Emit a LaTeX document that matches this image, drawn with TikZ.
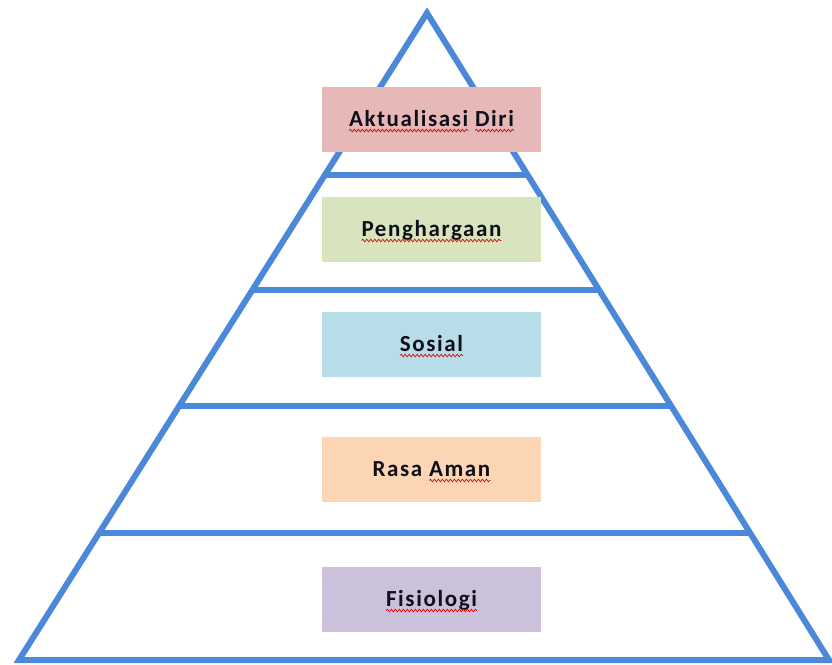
\documentclass[tikz,border=0pt]{standalone}
\usepackage{fontspec}
\setmainfont{Carlito}
\newfontfamily\lblfont[LetterSpace=7]{Carlito}
\usetikzlibrary{decorations.pathmorphing,calc}
\definecolor{pyr}{RGB}{76,136,216}
\definecolor{boxpink}{RGB}{230,184,183}
\definecolor{boxgreen}{RGB}{215,228,189}
\definecolor{boxblue}{RGB}{183,221,232}
\definecolor{boxorange}{RGB}{252,213,181}
\definecolor{boxpurple}{RGB}{204,193,218}
\definecolor{txtcol}{RGB}{15,15,25}
\newsavebox\wvbox
\newcommand\wavy[1]{\sbox\wvbox{#1}\rlap{\usebox\wvbox}\tikz[baseline=0pt]{\useasboundingbox (0pt,0pt) rectangle (\wd\wvbox,0pt);\draw[red!90!black,line width=0.7pt,decorate,decoration={snake,amplitude=1.3pt,segment length=4pt}] (0pt,-4.5pt) -- (\wd\wvbox,-4.5pt);}}
\tikzset{
  edge/.style={draw=pyr,line width=6pt},
  levelbox/.style={minimum width=219pt,minimum height=65pt,inner sep=0pt,draw=none},
  lbl/.style={anchor=base,inner sep=0pt,text=txtcol,font=\lblfont\fontsize{23}{27}\selectfont\bfseries}
}
\begin{document}
\begin{tikzpicture}[x=1pt,y=-1pt]
\useasboundingbox (0,0) rectangle (832,664);
\coordinate (apex) at (427,13);
\coordinate (bl) at (19,660);
\coordinate (br) at (829,660);
% pyramid outline
\draw[edge,line join=miter] (apex) -- (bl) -- (br) -- cycle;
% level lines
\foreach \t/\n in {0.2504/a,0.4281/b,0.6074/c,0.8037/d}{
  \coordinate (l\n) at ($(apex)!\t!(bl)$);
  \coordinate (r\n) at ($(apex)!\t!(br)$);
  \draw[edge] (l\n) -- (r\n);
}
% boxes
\node[levelbox,fill=boxpink]   (b1) at (431.5,119.5) {};
\node[levelbox,fill=boxgreen]  (b2) at (431.5,229.5) {};
\node[levelbox,fill=boxblue]   (b3) at (431.5,344.5) {};
\node[levelbox,fill=boxorange] (b4) at (431.5,469.5) {};
\node[levelbox,fill=boxpurple] (b5) at (431.5,599.5) {};
% labels
\node[lbl] (t1) at ([yshift=-6.5pt]b1.center) {\wavy{Aktualisasi} \wavy{Diri}};
\node[lbl] (t2) at ([yshift=-6.5pt]b2.center) {\wavy{Penghargaan}};
\node[lbl] (t3) at ([yshift=-6.5pt]b3.center) {\wavy{Sosial}};
\node[lbl] (t4) at ([yshift=-6.5pt]b4.center) {Rasa \wavy{Aman}};
\node[lbl] (t5) at ([yshift=-6.5pt]b5.center) {\wavy{Fisiologi}};
\end{tikzpicture}
\end{document}
